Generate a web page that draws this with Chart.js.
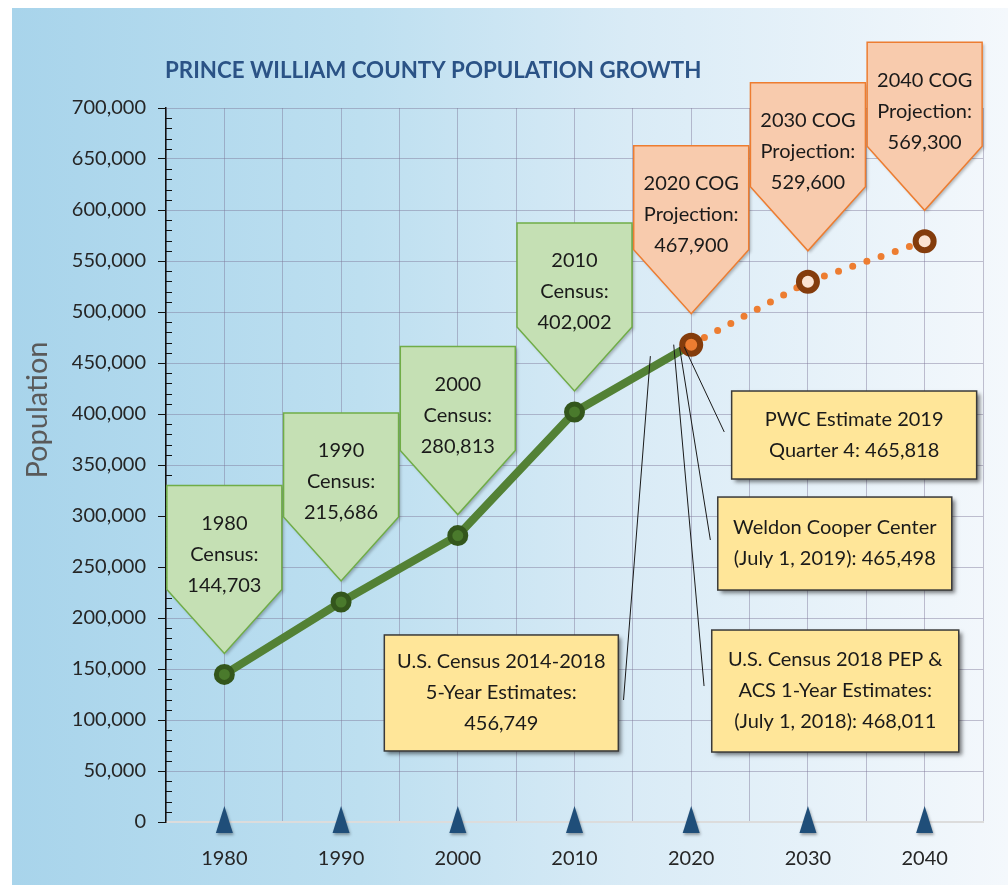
<!DOCTYPE html>
<html>
<head>
<meta charset="utf-8">
<title>Prince William County Population Growth</title>
<script src="https://cdn.jsdelivr.net/npm/chart.js@4.4.1/dist/chart.umd.min.js"></script>
<style>
  html, body { margin: 0; padding: 0; background: #fff; }
  #wrap { width: 1008px; height: 885px; }
</style>
</head>
<body>
<div id="wrap"><canvas id="popChart" width="1008" height="885"></canvas></div>
<script>
// decade labels on the x axis
const years = [1980, 1990, 2000, 2010, 2020, 2030, 2040];

// decennial census counts
const censusYears = [1980, 1990, 2000, 2010];
const censusValues = [144703, 215686, 280813, 402002];

// COG projections
const projYears = [2020, 2030, 2040];
const projValues = [467900, 529600, 569300];

// recent estimates (year position on the axis, value)
const estNames = [
    ['U.S. Census 2014-2018', '5-Year Estimates:', ''],
    ['PWC Estimate 2019', 'Quarter 4: '],
    ['Weldon Cooper Center', '(July 1, 2019): '],
    ['U.S. Census 2018 PEP &', 'ACS 1-Year Estimates:', '(July 1, 2018): ']
];
const estYears = [2016.5, 2019.4, 2019.0, 2018.5];
const estValues = [456749, 465818, 465498, 468011];

// y axis
const yMin = 0, yMax = 700000, yStep = 50000, yMinorStep = 10000;

// where the estimate boxes sit (axis units) and where their leader lines stop
const noteLayout = [
    { cx: 2003.73, cy: 126500, w: 234, h: 116, endX: 2014.2, endY: 119600 },
    { cx: 2033.96, cy: 379400, w: 245, h: 88,  endX: 2022.83, endY: 382400 },
    { cx: 2032.3,  cy: 273000, w: 234, h: 93,  endX: 2021.64, endY: 276500 },
    { cx: 2032.34, cy: 128400, w: 247, h: 122, endX: 2021.1,  endY: 133300 }
];

const FONT = 'Lato, "Open Sans", sans-serif';
const fmt = v => v.toLocaleString('en-US');

function drawLines(ctx, lines, cx, y0, step) {
    ctx.textAlign = 'center';
    ctx.textBaseline = 'middle';
    lines.forEach((t, i) => ctx.fillText(t, cx, y0 + i * step));
}

function calloutPath(ctx, cx, tipY, w, sideH, tipH) {
    const top = tipY - tipH - sideH;
    ctx.beginPath();
    ctx.moveTo(cx - w / 2, top);
    ctx.lineTo(cx + w / 2, top);
    ctx.lineTo(cx + w / 2, top + sideH);
    ctx.lineTo(cx, tipY);
    ctx.lineTo(cx - w / 2, top + sideH);
    ctx.closePath();
    return top;
}

const decor = {
    id: 'decor',
    beforeDraw(chart) {
        const ctx = chart.ctx;
        ctx.save();
        const g = ctx.createLinearGradient(12, 0, 1008, 0);
        g.addColorStop(0, '#a8d4eb');
        g.addColorStop(0.35, '#bddff0');
        g.addColorStop(0.62, '#d9ebf6');
        g.addColorStop(1, '#f4f8fc');
        ctx.fillStyle = g;
        ctx.fillRect(12, 8, 996, 877);
        ctx.restore();
    },
    afterDatasetsDraw(chart) {
        const ctx = chart.ctx;
        const xs = chart.scales.x, ys = chart.scales.y;
        const area = chart.chartArea;
        ctx.save();

        // minor ticks on the value axis
        ctx.strokeStyle = '#111';
        ctx.lineWidth = 1;
        for (let v = yMin; v <= yMax; v += yMinorStep) {
            if (v % yStep === 0) continue;
            const y = Math.round(ys.getPixelForValue(v)) + 0.5;
            ctx.beginPath();
            ctx.moveTo(area.left, y);
            ctx.lineTo(area.left + 6, y);
            ctx.stroke();
        }

        // triangles on the year axis
        ctx.fillStyle = '#1f4e79';
        ctx.shadowColor = 'rgba(0,0,0,0.35)';
        ctx.shadowBlur = 3;
        ctx.shadowOffsetX = 1;
        ctx.shadowOffsetY = 2;
        years.forEach(yr => {
            const x = xs.getPixelForValue(yr);
            ctx.beginPath();
            ctx.moveTo(x, area.bottom - 16);
            ctx.lineTo(x + 8.5, area.bottom + 11);
            ctx.lineTo(x - 8.5, area.bottom + 11);
            ctx.closePath();
            ctx.fill();
        });
        ctx.shadowColor = 'transparent';

        // leader lines from the estimates to their boxes
        ctx.strokeStyle = '#1a1a1a';
        ctx.lineWidth = 1;
        estYears.forEach((yr, i) => {
            const L = noteLayout[i];
            ctx.beginPath();
            ctx.moveTo(xs.getPixelForValue(yr), ys.getPixelForValue(estValues[i]));
            ctx.lineTo(xs.getPixelForValue(L.endX), ys.getPixelForValue(L.endY));
            ctx.stroke();
        });

        // estimate boxes
        ctx.font = '20px ' + FONT;
        estNames.forEach((names, i) => {
            const L = noteLayout[i];
            const cx = xs.getPixelForValue(L.cx), cy = ys.getPixelForValue(L.cy);
            const x0 = cx - L.w / 2, y0 = cy - L.h / 2;
            ctx.shadowColor = 'rgba(0,0,0,0.5)';
            ctx.shadowBlur = 4;
            ctx.shadowOffsetX = 3;
            ctx.shadowOffsetY = 3;
            ctx.fillStyle = '#ffe699';
            ctx.fillRect(x0, y0, L.w, L.h);
            ctx.shadowColor = 'transparent';
            ctx.strokeStyle = '#3a3a3a';
            ctx.lineWidth = 1.5;
            ctx.strokeRect(x0, y0, L.w, L.h);
            const lines = names.slice();
            lines[lines.length - 1] += fmt(estValues[i]);
            ctx.fillStyle = '#1a1a1a';
            drawLines(ctx, lines, cx, cy - (lines.length - 1) * 15.5, 31);
        });

        // census and projection callouts
        const drawCallouts = (yrs, vals, gap, fill, stroke, label) => {
            yrs.forEach((yr, i) => {
                const x = xs.getPixelForValue(yr);
                const tip = ys.getPixelForValue(vals[i]) - gap;
                ctx.shadowColor = 'rgba(0,0,0,0.25)';
                ctx.shadowBlur = 3;
                ctx.shadowOffsetX = 2;
                ctx.shadowOffsetY = 2;
                const top = calloutPath(ctx, x, tip, 115, 104, 64);
                ctx.fillStyle = fill;
                ctx.fill();
                ctx.shadowColor = 'transparent';
                ctx.strokeStyle = stroke;
                ctx.lineWidth = 1.5;
                ctx.stroke();
                ctx.fillStyle = '#1a1a1a';
                drawLines(ctx, label(yr, vals[i]), x, top + 38, 31);
            });
        };
        drawCallouts(censusYears, censusValues, 21, '#c5e0b4', '#70ad47',
            (yr, v) => [String(yr), 'Census:', fmt(v)]);
        drawCallouts(projYears, projValues, 31, '#f8cbad', '#ed7d31',
            (yr, v) => [yr + ' COG', 'Projection:', fmt(v)]);

        ctx.restore();
    },
    afterDraw(chart) {
        const ctx = chart.ctx;
        ctx.save();
        ctx.fillStyle = '#2b5386';
        ctx.font = 'bold 22.3px ' + FONT;
        ctx.textAlign = 'left';
        ctx.textBaseline = 'middle';
        ctx.fillText('PRINCE WILLIAM COUNTY POPULATION GROWTH', 165, 71);

        ctx.translate(38, 410);
        ctx.rotate(-Math.PI / 2);
        ctx.fillStyle = '#5a5a5a';
        ctx.font = '29px ' + FONT;
        ctx.textAlign = 'center';
        ctx.fillText('Population', 0, 0);
        ctx.restore();
    }
};

const ctx = document.getElementById('popChart');

new Chart(ctx, {
    type: 'line',
    data: {
        datasets: [{
            label: 'Census',
            data: censusYears.map((yr, i) => ({ x: yr, y: censusValues[i] }))
                .concat([{ x: projYears[0], y: projValues[0] }]),
            borderColor: '#538135',
            borderWidth: 8,
            pointRadius: censusYears.map(() => 8).concat([0]),
            pointBackgroundColor: '#4a7a2c',
            pointBorderColor: '#33561c',
            pointBorderWidth: 5,
            tension: 0,
            order: 2
        }, {
            label: 'COG Projection',
            data: projYears.map((yr, i) => ({ x: yr, y: projValues[i] })),
            borderColor: '#ed7d31',
            borderWidth: 7,
            borderDash: [0, 15],
            borderCapStyle: 'round',
            pointRadius: 9,
            pointBackgroundColor: ['#ed7d31', '#fbe3d2', '#fbe3d2'],
            pointBorderColor: '#843c0c',
            pointBorderWidth: 6,
            tension: 0,
            order: 1
        }]
    },
    options: {
        responsive: false,
        animation: false,
        layout: { padding: { top: 108, right: 21, left: 0, bottom: 0 } },
        plugins: {
            legend: { display: false },
            tooltip: { enabled: false }
        },
        scales: {
            x: {
                type: 'linear',
                min: 1975,
                max: 2045,
                afterFit: s => { s.height = 63; },
                afterBuildTicks: s => {
                    const t = [];
                    for (let v = 1975; v <= 2045; v += 5) t.push({ value: v });
                    s.ticks = t;
                },
                ticks: {
                    autoSkip: false,
                    maxRotation: 0,
                    padding: 25,
                    color: '#262626',
                    font: { family: FONT, size: 20 },
                    callback: v => years.includes(v) ? String(v) : ''
                },
                grid: { color: 'rgba(125,118,150,0.45)', lineWidth: 1, drawTicks: false },
                border: { color: '#dcdcdc', width: 2 }
            },
            y: {
                min: yMin,
                max: yMax,
                afterFit: s => { s.width = 166; },
                ticks: {
                    stepSize: yStep,
                    padding: 12,
                    color: '#262626',
                    font: { family: FONT, size: 20 },
                    callback: v => fmt(v)
                },
                grid: { color: 'rgba(125,118,150,0.45)', tickLength: 8, tickColor: '#111' },
                border: { color: '#111', width: 1.5 }
            }
        }
    },
    plugins: [decor]
});
</script>
</body>
</html>
